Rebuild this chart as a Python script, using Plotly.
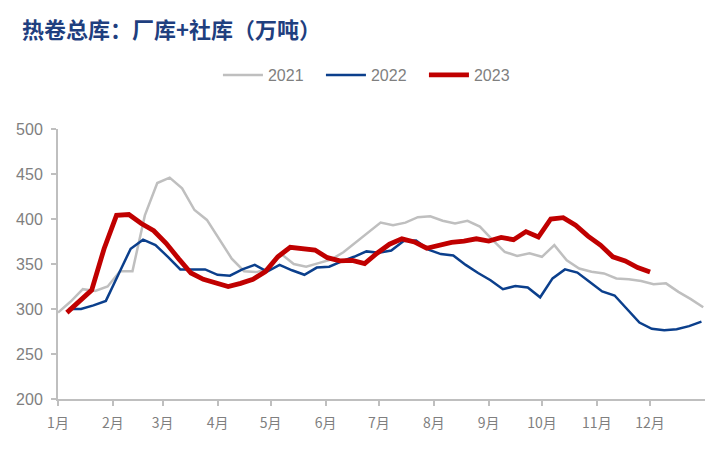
import pandas as pd
import plotly.graph_objects as go

# Month tick labels
month_labels = ["1月", "2月", "3月", "4月", "5月", "6月", "7月", "8月", "9月", "10月", "11月", "12月"]
month_starts = [f"2023-{m:02d}-01" for m in range(1, 13)]

# Weekly inventory (万吨), plotted on a common calendar year
v2021 = [296, 308, 322, 320, 325, 342, 342, 404, 440, 446, 434, 410, 399, 377, 356, 342,
         341, 345, 361, 350, 347, 351, 355, 363, 374, 385, 396, 393, 396, 402, 403, 398,
         395, 398, 391.5, 377, 363.5, 359, 362, 358, 371, 354, 345, 341.5, 339.5, 334, 333,
         331, 327.5, 328.5, 319, 311, 302]
v2022 = [300, 300, 304, 309, 338, 367, 377, 371, 358, 344, 344, 344, 338, 337, 344, 349,
         341.5, 349, 343, 338, 346, 347, 353, 358, 364, 362.5, 365, 375.5, 376, 366, 361,
         359.5, 349, 340, 332, 322, 325.5, 324, 313, 334, 344, 340.5, 330, 319.5, 315, 300,
         285, 278, 276.5, 277.5, 281, 286]
v2023 = [296, 309, 321, 367, 404, 405, 395, 387, 373, 356, 340, 333, 329, 325, 328.5, 333,
         341.5, 358, 368.5, 367.5, 365.5, 357, 353.5, 354, 350.5, 362, 372, 378, 374.5, 367.5,
         371, 374, 375.5, 378, 375.5, 379.5, 377, 386, 380, 400, 401.5, 393, 381, 371, 358,
         353.5, 346, 341]

d2021 = pd.date_range("2023-01-01", periods=len(v2021), freq="7D")
d2022 = pd.date_range("2023-01-07", periods=len(v2022), freq="7D")
d2023 = pd.date_range("2023-01-06", periods=len(v2023), freq="7D")

fig = go.Figure()
fig.add_trace(go.Scatter(x=d2021, y=v2021, mode="lines", name="2021",
                         line=dict(color="#BFBFBF", width=2.5)))
fig.add_trace(go.Scatter(x=d2022, y=v2022, mode="lines", name="2022",
                         line=dict(color="#0B3F8C", width=2.5)))
fig.add_trace(go.Scatter(x=d2023, y=v2023, mode="lines", name="2023",
                         line=dict(color="#C00000", width=4.8)))

axis_color = "#BFBFBF"
label_color = "#7F7F7F"
fig.update_layout(
    width=727, height=450,
    margin=dict(l=50, r=30, t=121, b=59),
    paper_bgcolor="white", plot_bgcolor="white",
    font=dict(family="Liberation Sans, Arial, sans-serif", color=label_color, size=15),
    title=dict(text="<b>热卷总库：厂库+社库（万吨）</b>",
               font=dict(family="Noto Sans CJK SC", size=22, color="#1F3F7F"),
               xref="container", yref="container", x=14/727, y=1-22/450,
               xanchor="left", yanchor="middle"),
    legend=dict(orientation="h", x=0.486, xanchor="center", y=1.2, yanchor="middle",
                font=dict(size=16, color=label_color), itemwidth=40,
                entrywidth=48, entrywidthmode="pixels"),
    showlegend=True,
    xaxis=dict(type="date", range=["2023-01-01", "2024-01-01"],
               tickvals=month_starts, ticktext=month_labels,
               showline=True, linecolor=axis_color, linewidth=2,
               ticks="outside", ticklen=5, tickcolor=axis_color, tickwidth=2,
               ticklabelstandoff=5, automargin=False,
               showgrid=False, zeroline=False,
               tickfont=dict(family="Noto Sans CJK SC", size=14, color=label_color)),
    yaxis=dict(range=[200, 500], dtick=50,
               showline=True, linecolor=axis_color, linewidth=2,
               ticks="outside", ticklen=5, tickcolor=axis_color, tickwidth=2,
               ticklabelstandoff=5, automargin=False,
               showgrid=False, zeroline=False,
               tickfont=dict(size=16, color=label_color)),
)

fig.write_html("out.html")
